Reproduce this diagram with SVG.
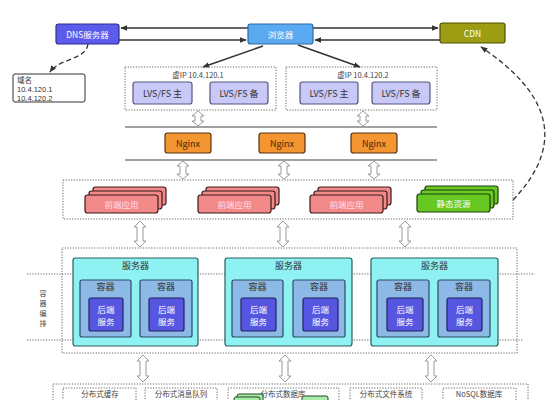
<svg xmlns="http://www.w3.org/2000/svg" width="554" height="400" viewBox="0 0 554 400">
<defs>
<style>
text{font-family:"Noto Sans CJK SC","Liberation Sans",sans-serif;}
.num{font-family:"Liberation Sans","Noto Sans CJK SC",sans-serif;font-size:7.5px;fill:#333;}
.lbl{font-size:8.5px;fill:#fff;text-anchor:middle;dominant-baseline:central;}
.dot{fill:none;stroke:#666;stroke-width:1;stroke-dasharray:1.2 1.5;}
.line{stroke:#333;stroke-width:1.5;fill:none;}
.dash{stroke:#333;stroke-width:1.3;fill:none;stroke-dasharray:5 3;}
.harrow{fill:#fff;stroke:#999;stroke-width:1;}
.lvs{fill:#c9c9f7;stroke:#55557f;stroke-width:1.2;}
.ngx{fill:#f39530;stroke:#553311;stroke-width:1.2;}
.fe{fill:#f38a8a;stroke:#3a1a1a;stroke-width:1.2;}
.st{fill:#66c821;stroke:#1f3f0f;stroke-width:1.2;}
.srv{fill:#8ef2f2;stroke:#2a5f5f;stroke-width:1.2;}
.ctr{fill:#8cb9e6;stroke:#2a4a66;stroke-width:1.2;}
.be{fill:#5656e0;stroke:#22225f;stroke-width:1.2;}
.title{font-size:9px;fill:#333;text-anchor:middle;dominant-baseline:central;}
.small{font-size:7.5px;fill:#444;text-anchor:middle;dominant-baseline:central;}
.vert{font-size:7px;fill:#444;text-anchor:middle;}
</style>
<marker id="ah" viewBox="0 0 10 10" refX="9" refY="5" markerWidth="7" markerHeight="7" orient="auto-start-reverse" markerUnits="userSpaceOnUse">
<path d="M0,1 L10,5 L0,9 Z" fill="#333"/>
</marker>
</defs>
<rect width="554" height="400" fill="#fff"/>

<g id="connectors">
<line class="line" x1="248" y1="28" x2="121" y2="28" marker-end="url(#ah)"/>
<line class="line" x1="119" y1="40" x2="246" y2="40" marker-end="url(#ah)"/>
<line class="line" x1="313" y1="28" x2="438" y2="28" marker-end="url(#ah)"/>
<line class="line" x1="440" y1="40" x2="315" y2="40" marker-end="url(#ah)"/>
<line class="line" x1="263" y1="46" x2="203" y2="67" marker-end="url(#ah)"/>
<line class="line" x1="298" y1="45" x2="360" y2="67" marker-end="url(#ah)"/>
<path class="dash" d="M88,44 C86,60 60,58 50,72" marker-end="url(#ah)"/>
<path class="dash" d="M513,200 C570,140 545,90 481,47" marker-end="url(#ah)"/>
<line x1="125" y1="127" x2="437" y2="127" stroke="#444" stroke-width="1.2"/>
<line x1="125" y1="160" x2="437" y2="160" stroke="#444" stroke-width="1.2"/>
<path class="harrow" d="M198,111 L204,116 L201,116 L201,121 L204,121 L198,126 L192,121 L195,121 L195,116 L192,116 Z"/>
<path class="harrow" d="M363,111 L369,116 L366,116 L366,121 L369,121 L363,126 L357,121 L360,121 L360,116 L357,116 Z"/>
<path class="harrow" d="M183,161 L189,166 L186,166 L186,174 L189,174 L183,179 L177,174 L180,174 L180,166 L177,166 Z"/>
<path class="harrow" d="M284,161 L290,166 L287,166 L287,174 L290,174 L284,179 L278,174 L281,174 L281,166 L278,166 Z"/>
<path class="harrow" d="M374,161 L380,166 L377,166 L377,174 L380,174 L374,179 L368,174 L371,174 L371,166 L368,166 Z"/>
<path class="harrow" d="M140,221 L146,227 L143,227 L143,241 L146,241 L140,247 L134,241 L137,241 L137,227 L134,227 Z"/>
<path class="harrow" d="M283,221 L289,227 L286,227 L286,241 L289,241 L283,247 L277,241 L280,241 L280,227 L277,227 Z"/>
<path class="harrow" d="M405,221 L411,227 L408,227 L408,241 L411,241 L405,247 L399,241 L402,241 L402,227 L399,227 Z"/>
<path class="harrow" d="M143,355 L149,361 L146,361 L146,376 L149,376 L143,382 L137,376 L140,376 L140,361 L137,361 Z"/>
<path class="harrow" d="M285,355 L291,361 L288,361 L288,376 L291,376 L285,382 L279,376 L282,376 L282,361 L279,361 Z"/>
<path class="harrow" d="M431,355 L437,361 L434,361 L434,376 L437,376 L431,382 L425,376 L428,376 L428,361 L425,361 Z"/>
</g>

<g id="dns">
<rect x="56" y="24" width="63" height="20" rx="2.5" fill="#5b5bec" stroke="#2f2f88" stroke-width="1.2"/>
<text class="lbl" x="87.5" y="34">DNS服务器</text>
</g>
<g id="browser">
<rect x="248" y="24" width="65" height="20" rx="2.5" fill="#5aaaf2" stroke="#2a6aa0" stroke-width="1.2"/>
<text class="lbl" x="280.5" y="34">浏览器</text>
</g>
<g id="cdn">
<rect x="440" y="23" width="65" height="20" rx="2.5" fill="#9d9d14" stroke="#4f4f00" stroke-width="1.2"/>
<text class="lbl" x="472.5" y="33">CDN</text>
</g>
<g id="domain">
<rect x="13" y="74" width="72" height="28" rx="2" fill="#fff" stroke="#333" stroke-width="1"/>
<text class="num" x="17" y="83">域名</text>
<text class="num" x="17" y="92">10.4.120.1</text>
<text class="num" x="17" y="100.5">10.4.120.2</text>
</g>

<g id="vip1">
<rect class="dot" x="125" y="67" width="151" height="43"/>
<text class="small" x="198" y="74">虚IP 10.4.120.1</text>
<rect class="lvs" x="133" y="82" width="59" height="22" rx="2.5"/>
<text class="title" x="162.5" y="93">LVS/FS 主</text>
<rect class="lvs" x="210" y="82" width="58" height="22" rx="2.5"/>
<text class="title" x="239" y="93">LVS/FS 备</text>
</g>
<g id="vip2">
<rect class="dot" x="286" y="67" width="151" height="43"/>
<text class="small" x="363" y="74">虚IP 10.4.120.2</text>
<rect class="lvs" x="300" y="82" width="58" height="22" rx="2.5"/>
<text class="title" x="329" y="93">LVS/FS 主</text>
<rect class="lvs" x="372" y="82" width="58" height="22" rx="2.5"/>
<text class="title" x="401" y="93">LVS/FS 备</text>
</g>

<g id="nginx1"><rect class="ngx" x="165" y="133" width="46" height="20" rx="2.5"/><text class="title" x="188" y="143" style="fill:#4a2a08">Nginx</text></g>
<g id="nginx2"><rect class="ngx" x="259" y="133" width="46" height="20" rx="2.5"/><text class="title" x="282" y="143" style="fill:#4a2a08">Nginx</text></g>
<g id="nginx3"><rect class="ngx" x="351" y="133" width="46" height="20" rx="2.5"/><text class="title" x="374" y="143" style="fill:#4a2a08">Nginx</text></g>

<g id="frontend">
<rect class="dot" x="63" y="180" width="450" height="39"/>
<g id="fe1">
<rect class="fe" x="93" y="187" width="73" height="18" rx="2.5"/>
<rect class="fe" x="89" y="191" width="73" height="18" rx="2.5"/>
<rect class="fe" x="85" y="195" width="73" height="18" rx="2.5"/>
<text class="lbl" x="121.5" y="204" style="fill:#fde">前端应用</text>
</g>
<g id="fe2">
<rect class="fe" x="206" y="187" width="73" height="18" rx="2.5"/>
<rect class="fe" x="202" y="191" width="73" height="18" rx="2.5"/>
<rect class="fe" x="198" y="195" width="73" height="18" rx="2.5"/>
<text class="lbl" x="234.5" y="204" style="fill:#fde">前端应用</text>
</g>
<g id="fe3">
<rect class="fe" x="318" y="187" width="73" height="18" rx="2.5"/>
<rect class="fe" x="314" y="191" width="73" height="18" rx="2.5"/>
<rect class="fe" x="310" y="195" width="73" height="18" rx="2.5"/>
<text class="lbl" x="346.5" y="204" style="fill:#fde">前端应用</text>
</g>
<g id="static">
<rect class="st" x="425" y="186" width="73" height="18" rx="2.5"/>
<rect class="st" x="421" y="190" width="73" height="18" rx="2.5"/>
<rect class="st" x="417" y="194" width="73" height="18" rx="2.5"/>
<text class="lbl" x="453.5" y="203">静态资源</text>
</g>
</g>

<g id="orchestration">
<rect class="dot" x="62" y="248" width="455" height="105"/>
<line class="dot" x1="27" y1="274" x2="535" y2="274"/>
<line class="dot" x1="27" y1="340" x2="523" y2="340"/>
<text class="vert" x="43" y="296">容</text>
<text class="vert" x="43" y="306">器</text>
<text class="vert" x="43" y="316">编</text>
<text class="vert" x="43" y="326">排</text>
</g>

<g id="server1">
<rect class="srv" x="73" y="258" width="125" height="88" rx="2.5"/>
<text class="title" x="135.5" y="265">服务器</text>
<rect class="ctr" x="80" y="280" width="51" height="57" rx="2"/>
<text class="title" x="105.5" y="286">容器</text>
<rect class="be" x="89" y="298" width="34" height="33" rx="2"/>
<text class="lbl" x="106" y="309">后端</text><text class="lbl" x="106" y="321">服务</text>
<rect class="ctr" x="140" y="280" width="52" height="57" rx="2"/>
<text class="title" x="166" y="286">容器</text>
<rect class="be" x="149" y="298" width="35" height="33" rx="2"/>
<text class="lbl" x="166.5" y="309">后端</text><text class="lbl" x="166.5" y="321">服务</text>
</g>
<g id="server2">
<rect class="srv" x="225" y="258" width="127" height="88" rx="2.5"/>
<text class="title" x="288.5" y="265">服务器</text>
<rect class="ctr" x="232" y="280" width="51" height="57" rx="2"/>
<text class="title" x="257.5" y="286">容器</text>
<rect class="be" x="241" y="298" width="35" height="33" rx="2"/>
<text class="lbl" x="258.5" y="309">后端</text><text class="lbl" x="258.5" y="321">服务</text>
<rect class="ctr" x="293" y="280" width="52" height="57" rx="2"/>
<text class="title" x="319" y="286">容器</text>
<rect class="be" x="303" y="298" width="35" height="33" rx="2"/>
<text class="lbl" x="320.5" y="309">后端</text><text class="lbl" x="320.5" y="321">服务</text>
</g>
<g id="server3">
<rect class="srv" x="371" y="258" width="127" height="88" rx="2.5"/>
<text class="title" x="434.5" y="265">服务器</text>
<rect class="ctr" x="377" y="280" width="52" height="57" rx="2"/>
<text class="title" x="403" y="286">容器</text>
<rect class="be" x="387" y="298" width="36" height="33" rx="2"/>
<text class="lbl" x="405" y="309">后端</text><text class="lbl" x="405" y="321">服务</text>
<rect class="ctr" x="438" y="280" width="52" height="57" rx="2"/>
<text class="title" x="464" y="286">容器</text>
<rect class="be" x="447" y="298" width="35" height="33" rx="2"/>
<text class="lbl" x="464.5" y="309">后端</text><text class="lbl" x="464.5" y="321">服务</text>
</g>

<g id="storage">
<rect class="dot" x="53" y="384" width="475" height="30"/>
<g id="cache"><rect class="dot" x="63" y="388" width="73" height="24"/><text class="small" x="100" y="393">分布式缓存</text></g>
<g id="mq"><rect class="dot" x="145" y="388" width="72" height="24"/><text class="small" x="181" y="393">分布式消息队列</text></g>
<g id="db"><rect class="dot" x="228" y="388" width="111" height="24"/><text class="small" x="283" y="393">分布式数据库</text>
<rect x="237" y="394" width="26" height="12" rx="2" fill="#a8eea8" stroke="#224422" stroke-width="1"/>
<rect x="234" y="397" width="26" height="12" rx="2" fill="#a8eea8" stroke="#224422" stroke-width="1"/>
<rect x="302" y="396" width="26" height="12" rx="2" fill="#a8eea8" stroke="#224422" stroke-width="1"/>
</g>
<g id="fs"><rect class="dot" x="350" y="388" width="72" height="24"/><text class="small" x="386" y="393">分布式文件系统</text></g>
<g id="nosql"><rect class="dot" x="443" y="388" width="73" height="24"/><text class="small" x="479" y="393">NoSQL数据库</text></g>
</g>
</svg>
